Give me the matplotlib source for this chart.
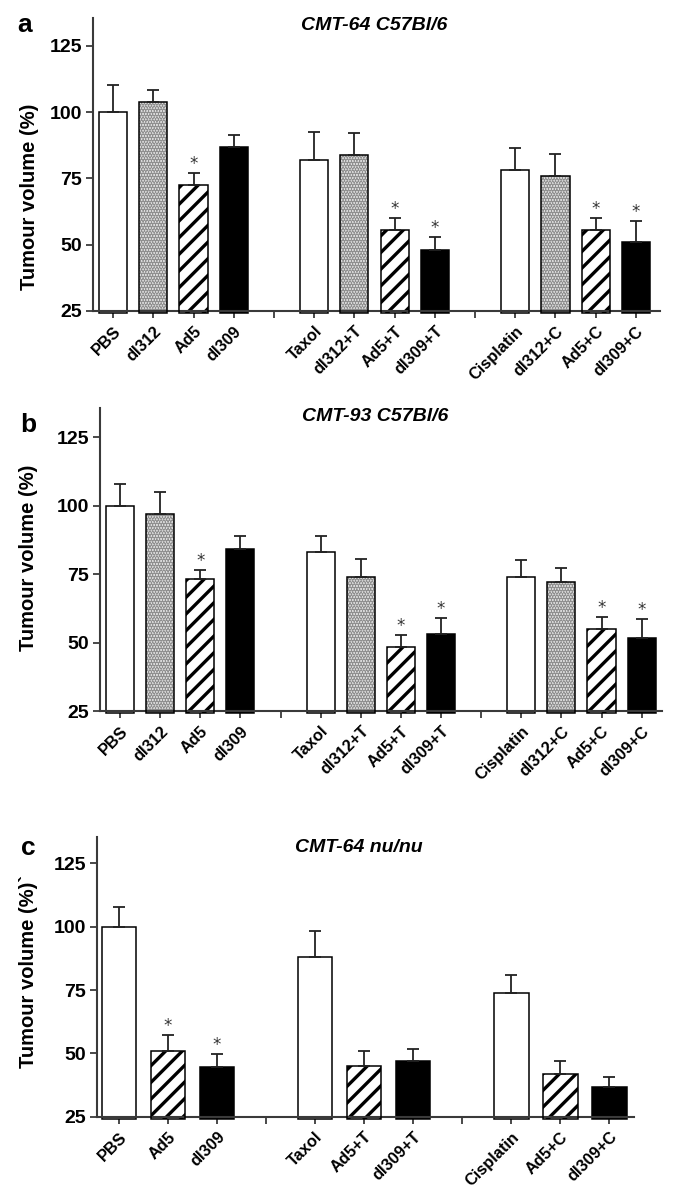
import matplotlib
matplotlib.use('Agg')
import matplotlib.pyplot as plt
import numpy as np

plt.rcParams['font.family'] = ['Liberation Sans', 'DejaVu Sans']
plt.rcParams['hatch.linewidth'] = 2.4

# ---------------- data ----------------
a_groups = [["PBS", "dl312", "Ad5", "dl309"],
            ["Taxol", "dl312+T", "Ad5+T", "dl309+T"],
            ["Cisplatin", "dl312+C", "Ad5+C", "dl309+C"]]
a_values = [100, 104, 72.5, 87, 82, 84, 55.5, 48, 78, 76, 55.5, 51]
a_errors = [10.2, 4.2, 4.5, 4.5, 10.4, 8.2, 4.7, 5.0, 8.5, 8.3, 4.7, 8.0]
a_signif = [0, 0, 1, 0, 0, 0, 1, 1, 0, 0, 1, 1]

b_groups = a_groups
b_values = [100, 97, 73.2, 84.3, 83, 74, 48.3, 53.1, 74, 72, 55, 51.6]
b_errors = [8.0, 8.0, 3.4, 4.6, 6.0, 6.5, 4.4, 6.0, 6.0, 5.3, 4.3, 7.0]
b_signif = [0, 0, 1, 0, 0, 0, 1, 1, 0, 0, 1, 1]

c_groups = [["PBS", "Ad5", "dl309"],
            ["Taxol", "Ad5+T", "dl309+T"],
            ["Cisplatin", "Ad5+C", "dl309+C"]]
c_values = [100, 51, 44.5, 88.2, 45, 47, 73.8, 41.8, 36.6]
c_errors = [7.8, 6.3, 5.2, 10.0, 5.9, 4.6, 7.2, 5.3, 4.1]
c_signif = [0, 1, 1, 0, 0, 0, 0, 0, 0]

titles = ["CMT-64 C57Bl/6", "CMT-93 C57Bl/6", "CMT-64 nu/nu"]
letters = ["a", "b", "c"]
ylabels = ["Tumour volume (%)", "Tumour volume (%)", "Tumour volume (%)`"]
yticks = [25, 50, 75, 100, 125]

# ---------------- layout ----------------
W, H = 678, 1197
fig = plt.figure(figsize=(W / 100, H / 100), dpi=100)

def frac_rect(l, r, b, t):
    return [l / W, 1 - b / H, (r - l) / W, (b - t) / H]

panels = [
    dict(rect=frac_rect(93, 660, 311, 18), groups=a_groups, values=a_values,
         errors=a_errors, signif=a_signif, xlim=(-0.5, 13.6),
         ylab=(-0.095, 0.39), title_xy=(0.496, 0.976), letter_xy=(25, 25)),
    dict(rect=frac_rect(100, 661.7, 711, 408.3), groups=b_groups, values=b_values,
         errors=b_errors, signif=b_signif, xlim=(-0.5, 13.5),
         ylab=(-0.11, 0.505), title_xy=(0.49, 0.972), letter_xy=(28, 425)),
    dict(rect=frac_rect(97.3, 634, 1116.7, 836.7), groups=c_groups, values=c_values,
         errors=c_errors, signif=c_signif, xlim=(-0.44, 10.5),
         ylab=(-0.11, 0.52), title_xy=(0.488, 0.96), letter_xy=(28, 848)),
]

spine_col = '#3a3a3a'

def style_for(label):
    if label.startswith('dl312'):
        return 'stipple'
    if label.startswith('Ad5'):
        return 'stripe'
    if label.startswith('dl309'):
        return 'solid'
    return 'open'

for i, p in enumerate(panels):
    ax = fig.add_axes(p['rect'])
    labels, pos, ticks, ticklabels = [], [], [], []
    x = 0
    for gi, g in enumerate(p['groups']):
        if gi > 0:
            ticks.append(x)
            ticklabels.append('')
            x += 1
        for lab in g:
            labels.append(lab)
            pos.append(x)
            ticks.append(x)
            ticklabels.append(lab)
            x += 1
    pos = np.array(pos, dtype=float)
    vals = np.array(p['values'], dtype=float)
    errs = np.array(p['errors'], dtype=float)
    base = 24.2
    width = 0.7
    for xi, v, lab in zip(pos, vals, labels):
        st = style_for(lab)
        if st == 'open':
            ax.bar(xi, v - base, bottom=base, width=width, facecolor='white',
                   edgecolor='black', linewidth=1.1, clip_on=False, zorder=2)
        elif st == 'solid':
            ax.bar(xi, v - base, bottom=base, width=width, facecolor='black',
                   edgecolor='black', linewidth=1.1, clip_on=False, zorder=2)
        elif st == 'stripe':
            ax.bar(xi, v - base, bottom=base, width=width, facecolor='white',
                   edgecolor='black', hatch='//', linewidth=0, clip_on=False, zorder=2)
            ax.bar(xi, v - base, bottom=base, width=width, fill=False,
                   edgecolor='black', linewidth=1.1, clip_on=False, zorder=3)
        else:
            ax.bar(xi, v - base, bottom=base, width=width, facecolor='#e6e6e6',
                   edgecolor='#8f8f8f', hatch='......', linewidth=0, clip_on=False, zorder=2)
            ax.bar(xi, v - base, bottom=base, width=width, fill=False,
                   edgecolor='black', linewidth=1.1, clip_on=False, zorder=3)
    ax.errorbar(pos, vals, yerr=[np.zeros_like(errs), errs], fmt='none',
                ecolor='#222222', elinewidth=1.3, capsize=4.2, capthick=1.3, zorder=4)
    for xi, v, e, s in zip(pos, vals, errs, p['signif']):
        if s:
            ax.annotate('*', (xi, v + e), xytext=(0, 0), textcoords='offset points',
                        ha='center', va='bottom', fontsize=12, color='#333333',
                        family='DejaVu Sans')

    ax.set_xlim(*p['xlim'])
    ax.set_ylim(25, 135.5)
    ax.set_yticks(yticks)
    ax.set_yticklabels([str(t) for t in yticks], fontsize=14, fontweight='bold')
    ax.set_xticks(ticks)
    ax.set_xticklabels(ticklabels, rotation=45, ha='right', va='top',
                       rotation_mode='anchor', fontsize=11.8, fontweight='bold')
    ax.tick_params(axis='y', direction='out', length=5, width=1.3, color=spine_col, pad=3)
    ax.tick_params(axis='x', direction='out', length=5, width=1.3, color=spine_col, pad=4)
    for sp in ['top', 'right']:
        ax.spines[sp].set_visible(False)
    for sp in ['left', 'bottom']:
        ax.spines[sp].set_color(spine_col)
        ax.spines[sp].set_linewidth(1.5)
    ax.set_ylabel(ylabels[i], fontsize=14.5, fontweight='bold')
    ax.yaxis.set_label_coords(*p['ylab'])
    ax.text(p['title_xy'][0], p['title_xy'][1], titles[i], transform=ax.transAxes,
            ha='center', va='center', fontsize=14, fontweight='bold', style='italic')
    lx, ly = p['letter_xy']
    fig.text(lx / W, 1 - ly / H, letters[i], ha='center', va='center',
             fontsize=19, fontweight='bold')
    ax.set_facecolor('none')

fig.savefig('out.png', dpi=100, facecolor='white')
